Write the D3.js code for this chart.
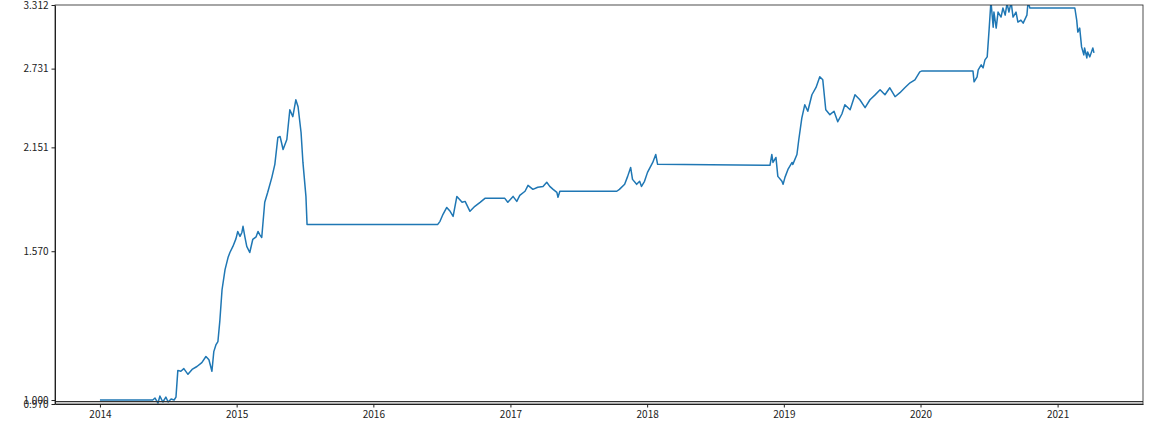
<!DOCTYPE html>
<html>
<head>
<meta charset="utf-8">
<script src="https://cdn.jsdelivr.net/npm/d3@7"></script>
<style>
  body { margin: 0; background: #fff; }
  .axis text { font-family: "Noto Sans CJK SC", "DejaVu Sans", sans-serif; font-size: 10px; fill: #222; }
  .axis path, .axis line { stroke: #222; }
</style>
</head>
<body>
<script>
// Dates and values
const dates = [
  "2014-01-01","2014-05-22","2014-05-28","2014-06-05","2014-06-10","2014-06-18","2014-06-26","2014-07-02",
  "2014-07-10","2014-07-18","2014-07-23","2014-07-28","2014-08-05","2014-08-13","2014-08-24","2014-09-04",
  "2014-09-17","2014-09-30","2014-10-11","2014-10-19","2014-10-27","2014-11-01","2014-11-07","2014-11-12",
  "2014-11-17","2014-11-23","2014-12-01","2014-12-09","2014-12-14","2014-12-22","2014-12-30","2015-01-04",
  "2015-01-10","2015-01-15","2015-01-18","2015-01-23","2015-01-28","2015-02-05","2015-02-13","2015-02-22",
  "2015-02-27","2015-03-04","2015-03-09","2015-03-17","2015-03-25","2015-04-05","2015-04-13","2015-04-21",
  "2015-04-27","2015-05-05","2015-05-15","2015-05-23","2015-05-31","2015-06-08","2015-06-14","2015-06-22",
  "2015-06-27","2015-07-05","2015-07-08","2016-06-21","2016-06-27","2016-07-05","2016-07-15","2016-07-24",
  "2016-08-01","2016-08-11","2016-08-25","2016-09-02","2016-09-15","2016-09-28","2016-10-12","2016-10-25",
  "2016-12-17","2016-12-25","2017-01-08","2017-01-18","2017-01-26","2017-02-09","2017-02-17","2017-03-02",
  "2017-03-15","2017-03-29","2017-04-08","2017-04-16","2017-04-25","2017-05-05","2017-05-08","2017-05-13",
  "2017-10-12","2017-10-19","2017-11-02","2017-11-10","2017-11-18","2017-11-23","2017-12-04","2017-12-12",
  "2017-12-17","2017-12-25","2018-01-02","2018-01-16","2018-01-24","2018-01-29","2018-11-25","2018-11-30",
  "2018-12-03","2018-12-11","2018-12-16","2018-12-27","2018-12-30","2019-01-04","2019-01-12","2019-01-23",
  "2019-01-25","2019-02-05","2019-02-10","2019-02-18","2019-02-26","2019-03-06","2019-03-17","2019-03-28",
  "2019-04-07","2019-04-15","2019-04-23","2019-05-04","2019-05-15","2019-05-25","2019-06-05","2019-06-13",
  "2019-06-27","2019-07-10","2019-07-23","2019-08-06","2019-08-19","2019-09-01","2019-09-15","2019-09-28",
  "2019-10-11","2019-10-25","2019-11-07","2019-11-20","2019-12-04","2019-12-17","2019-12-30","2020-01-05",
  "2020-05-20","2020-05-23","2020-05-31","2020-06-03","2020-06-11","2020-06-16","2020-06-21","2020-06-27",
  "2020-07-02","2020-07-07","2020-07-13","2020-07-15","2020-07-21","2020-07-26","2020-08-03","2020-08-08",
  "2020-08-14","2020-08-19","2020-08-24","2020-08-30","2020-09-04","2020-09-12","2020-09-17","2020-09-25",
  "2020-10-01","2020-10-11","2020-10-14","2020-10-19","2021-02-16","2021-02-21","2021-02-24","2021-03-01",
  "2021-03-06","2021-03-12","2021-03-14","2021-03-20","2021-03-22","2021-03-28","2021-04-05","2021-04-08"
];

const values = [
  1.000,1.000,1.006,0.991,1.012,0.994,1.009,0.994,
  1.003,1.000,1.009,1.094,1.091,1.100,1.081,1.097,
  1.107,1.120,1.141,1.130,1.091,1.158,1.183,1.194,
  1.269,1.397,1.485,1.540,1.564,1.593,1.630,1.667,
  1.642,1.662,1.693,1.640,1.593,1.564,1.627,1.640,
  1.667,1.650,1.637,1.821,1.877,1.964,2.043,2.216,
  2.223,2.137,2.203,2.411,2.361,2.485,2.433,2.250,
  2.055,1.854,1.703,1.703,1.719,1.756,1.793,1.772,
  1.745,1.854,1.821,1.826,1.772,1.799,1.821,1.843,
  1.843,1.821,1.854,1.826,1.860,1.883,1.917,1.894,
  1.906,1.911,1.935,1.911,1.894,1.877,1.849,1.883,
  1.883,1.894,1.923,1.970,2.024,1.952,1.923,1.941,
  1.911,1.941,1.994,2.055,2.105,2.043,2.037,2.105,
  2.055,2.086,1.970,1.941,1.923,1.964,2.012,2.055,
  2.043,2.105,2.203,2.350,2.448,2.400,2.523,2.580,
  2.664,2.640,2.411,2.375,2.400,2.325,2.380,2.448,
  2.411,2.523,2.485,2.426,2.485,2.520,2.561,2.523,
  2.577,2.508,2.539,2.577,2.616,2.640,2.704,2.712,
  2.712,2.624,2.664,2.720,2.762,2.737,2.804,2.830,
  3.069,3.350,3.097,3.242,3.088,3.242,3.193,3.282,
  3.212,3.330,3.242,3.340,3.193,3.242,3.145,3.164,
  3.135,3.212,3.340,3.282,3.282,3.164,3.051,3.088,
  2.917,2.847,2.908,2.821,2.873,2.830,2.908,2.864
];

// Tick labels as printed on the y axis
const yTickValues = [0.988, 1.000, 1.570, 2.151, 2.731, 3.312];
const yTickLabels = ["0.970", "1.000", "1.570", "2.151", "2.731", "3.312"];
const xTickYears = [2014, 2015, 2016, 2017, 2018, 2019, 2020, 2021];
const refLine = 0.995;

const svgWidth = 1149;
const svgHeight = 432;
const margin = { top: 5, right: 6, bottom: 28, left: 55 };
const chartWidth = svgWidth - margin.left - margin.right;
const chartHeight = svgHeight - margin.top - margin.bottom;

const parseDate = d3.timeParse("%Y-%m-%d");
const data = dates.map((d, i) => ({ date: parseDate(d), value: values[i] }));

const svg = d3.select("body").append("svg")
  .attr("width", svgWidth)
  .attr("height", svgHeight);

const chartGroup = svg.append("g")
  .attr("transform", `translate(${margin.left}, ${margin.top})`);

const xScale = d3.scaleTime()
  .domain([parseDate("2013-09-03"), parseDate("2021-08-17")])
  .range([0, chartWidth]);

const yScale = d3.scaleLog()
  .domain([0.988, 3.312])
  .range([chartHeight, 0]);

chartGroup.append("clipPath").attr("id", "clip")
  .append("rect").attr("width", chartWidth).attr("height", chartHeight);

const createLine = d3.line()
  .x(d => xScale(d.date))
  .y(d => yScale(d.value));

chartGroup.append("path")
  .attr("clip-path", "url(#clip)")
  .attr("d", createLine(data))
  .attr("fill", "none")
  .attr("stroke", "#1f77b4")
  .attr("stroke-width", 1.5)
  .attr("stroke-linejoin", "round");

// horizontal reference line near the bottom
chartGroup.append("line")
  .attr("x1", 0).attr("x2", chartWidth)
  .attr("y1", yScale(refLine)).attr("y2", yScale(refLine))
  .attr("stroke", "#333")
  .attr("stroke-width", 1.2);

// axes
const bottomAxis = d3.axisBottom(xScale)
  .tickValues(xTickYears.map(y => new Date(y, 0, 1)))
  .tickFormat(d3.timeFormat("%Y"))
  .tickSize(3.5)
  .tickSizeOuter(0);

const leftAxis = d3.axisLeft(yScale)
  .tickValues(yTickValues)
  .tickFormat((d, i) => yTickLabels[i])
  .tickSize(3.5)
  .tickSizeOuter(0);

chartGroup.append("g")
  .classed("axis", true)
  .attr("transform", `translate(0, ${chartHeight})`)
  .call(bottomAxis);

chartGroup.append("g")
  .classed("axis", true)
  .call(leftAxis);

// frame
chartGroup.append("rect")
  .attr("width", chartWidth)
  .attr("height", chartHeight)
  .attr("fill", "none")
  .attr("stroke", "#222")
  .attr("stroke-width", 0.8);
</script>
</body>
</html>
